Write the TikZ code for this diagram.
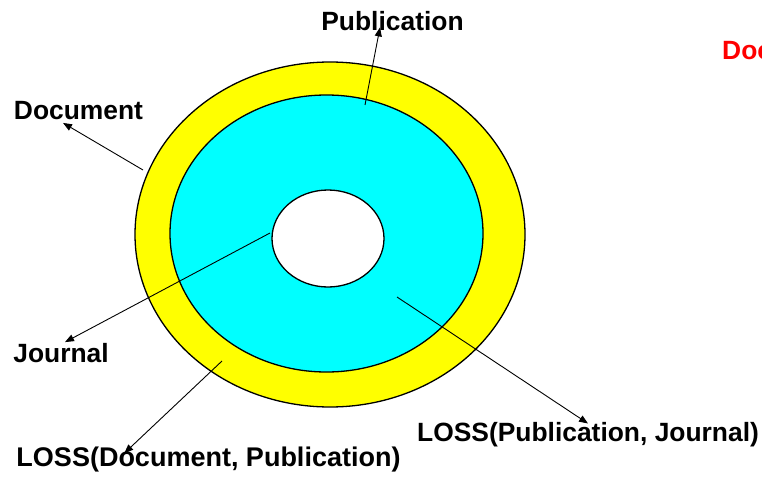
\documentclass[tikz,border=0pt]{standalone}
\usepackage{fontspec}
\setmainfont{Liberation Sans}
\usetikzlibrary{arrows.meta}
\definecolor{ringyellow}{RGB}{255,255,0}
\definecolor{ringcyan}{RGB}{0,255,255}
\definecolor{keyred}{RGB}{255,0,0}

\begin{document}
\begin{tikzpicture}[x=1pt,y=-1pt,
	every node/.style={font=\fontsize{26.4}{30}\selectfont\bfseries, inner sep=0pt},
	pointer/.style={-{Triangle[length=9pt,width=7pt]}, line width=0.9pt},
	rim/.style={draw=black, line width=1.3pt}]
	\useasboundingbox (0,0) rectangle (762,484);
	% the three rings
	\fill[ringyellow, rim] (330,234.5) ellipse (195 and 172.5);
	\fill[ringcyan, rim] (326.5,233.5) ellipse (156.5 and 138.5);
	\fill[white, rim] (328,238.5) ellipse (56 and 48.5);
	% labels
	\node (pub) at (392.5,21) {Publication};
	\node (doc) at (78.5,111) {Document};
	\node (jou) at (61,353) {Journal};
	\node (lpj) at (588,435) {LOSS(Publication, Journal)};
	\node[font=\fontsize{27}{30}\selectfont\bfseries] (ldp) at (208.5,460) {LOSS(Document, Publication)};
	\node[keyred, anchor=west] (key) at (722,51) {Doc};
	% pointers
	\coordinate (pubfoot) at (365,105);
	\coordinate (docfoot) at (143,170);
	\coordinate (joufoot) at (270,233);
	\coordinate (lpjfoot) at (397,297);
	\coordinate (ldpfoot) at (222,361);
	\draw[pointer] (pubfoot) -- ([xshift=-12.5pt,yshift=3.5pt]pub.south);
	\draw[pointer] (docfoot) -- ([xshift=-15.5pt,yshift=-2.5pt]doc.south);
	\draw[pointer] (joufoot) -- ([xshift=4pt,yshift=1pt]jou.north);
	\draw[pointer] (lpjfoot) -- ([yshift=-1pt]lpj.north);
	\draw[pointer] (ldpfoot) -- ([xshift=108pt,yshift=-6pt]ldp.north west);
\end{tikzpicture}
\end{document}
